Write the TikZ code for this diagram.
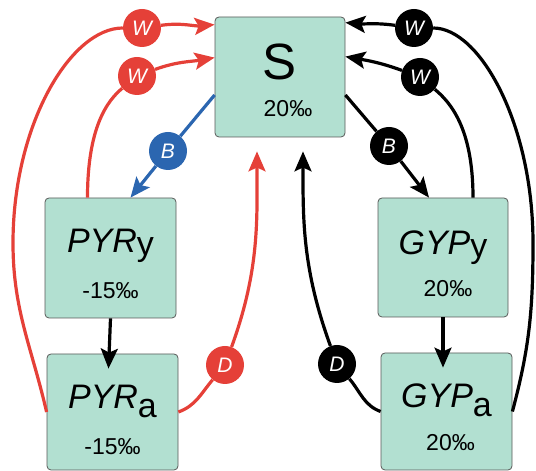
\documentclass[tikz,border=0pt]{standalone}
\usepackage{fontspec}
\setmainfont{Liberation Sans}
\usetikzlibrary{arrows.meta}

\definecolor{boxfill}{RGB}{178,224,209}
\definecolor{sred}{RGB}{229,64,56}
\definecolor{sblue}{RGB}{43,102,176}

\begin{document}
\begin{tikzpicture}[x=1pt,y=1pt,
    box/.style={draw=black!65,line width=0.8pt,fill=boxfill,rounded corners=4pt},
    ttl/.style={anchor=base,font=\fontsize{34}{34}\selectfont},
    pct/.style={anchor=base,font=\fontsize{23}{23}\selectfont},
    badge/.style={circle,minimum size=38pt,inner sep=0pt,text=white,
      font=\fontsize{21}{21}\selectfont\itshape},
    flow/.style={line width=3.2pt},
    arr/.style={flow,-{Stealth[length=20pt,width=17pt,inset=4pt]}}]
    \useasboundingbox (0,0) rectangle (536,471);
    % pools
    \node[box,minimum width=130pt,minimum height=120pt] (S) at (280,394) {};
    \node[box,minimum width=131pt,minimum height=120pt] (PYRy) at (110.5,213) {};
    \node[box,minimum width=131pt,minimum height=116pt] (PYRa) at (112.5,59) {};
    \node[box,minimum width=130pt,minimum height=119pt] (GYPy) at (443,213.5) {};
    \node[box,minimum width=131pt,minimum height=117pt] (GYPa) at (446.5,59.5) {};
    \node[anchor=base,font=\fontsize{51}{51}\selectfont] (Sname) at ([yshift=-3pt]S.center) {S};
    \node[pct] (Sval) at ([xshift=8pt,yshift=-40pt]S.center) {20‰};
    \node[ttl] (PYRyname) at ([yshift=5pt]PYRy.center) {\textit{PYR}\raisebox{-3pt}{y}};
    \node[pct] (PYRyval) at ([yshift=-41pt]PYRy.center) {-15‰};
    \node[ttl] (PYRaname) at ([yshift=3pt]PYRa.center) {\textit{PYR}\raisebox{-9pt}{a}};
    \node[pct] (PYRaval) at ([yshift=-43pt]PYRa.center) {-15‰};
    \node[ttl] (GYPyname) at ([yshift=3pt]GYPy.center) {\textit{GYP}\raisebox{-3pt}{y}};
    \node[pct] (GYPyval) at ([xshift=5pt,yshift=-39pt]GYPy.center) {20‰};
    \node[ttl] (GYPaname) at ([yshift=4pt]GYPa.center) {\textit{GYP}\raisebox{-9pt}{a}};
    \node[pct] (GYPaval) at ([xshift=4pt,yshift=-39pt]GYPa.center) {20‰};
    % fluxes
    \node[badge,fill=sred] (Wr1) at (142,443) {W};
    \node[badge,fill=sred] (Wr2) at (137,395) {W};
    \node[badge,fill=sblue] (Br) at (168,320) {B};
    \node[badge,fill=sred] (Dr) at (225,106) {D};
    \node[badge,fill=black] (Wb1) at (414,443) {W};
    \node[badge,fill=black] (Wb2) at (420,394) {W};
    \node[badge,fill=black] (Bb) at (389,325) {B};
    \node[badge,fill=black] (Db) at (337,107) {D};
    \coordinate (redleft) at (13,228);
    \coordinate (blackright) at (533,228);

    \draw[flow,sred] (PYRa.west) to[out=103,in=-90] (redleft)
      .. controls +(0,119) and +(-71,0) .. (Wr1);
    \draw[arr,sred] (Wr1) to[out=8,in=185] ([yshift=-8pt]S.north west);
    \draw[flow,sred] ([xshift=-23pt]PYRy.north) .. controls +(0,70) and +(-30,-25) .. (Wr2);
    \draw[arr,sred] (Wr2) to[out=20,in=190] ([yshift=-41pt]S.north west);
    \draw[flow,sred] (PYRa.east) to[out=20,in=230] (Dr);
    \draw[arr,sred,shorten >=14pt] (Dr) to[out=70,in=-90] ([xshift=-23pt]S.south);
    \draw[flow,sblue] ([yshift=-18pt]S.west) -- (Br);
    \draw[arr,sblue] (Br) -- ([xshift=20pt]PYRy.north);
    \draw[arr] (PYRy.south) -- ([xshift=-2pt,yshift=-15pt]PYRy.south |- PYRa.north);

    \draw[flow] (GYPa.east) to[out=75,in=-90] (blackright)
      .. controls +(0,119) and +(66,0) .. (Wb1);
    \draw[arr] (Wb1) to[out=172,in=-5] ([yshift=-6pt]S.north east);
    \draw[flow] ([xshift=30pt]GYPy.north) .. controls +(0,70) and +(30,-25) .. (Wb2);
    \draw[arr] (Wb2) to[out=160,in=-10] ([yshift=-40pt]S.north east);
    \draw[flow] (GYPa.west) to[out=160,in=-50] (Db);
    \draw[arr,shorten >=14pt] (Db) to[out=110,in=-90] ([xshift=23pt]S.south);
    \draw[flow] ([yshift=-18pt]S.east) -- (Bb);
    \draw[arr] (Bb) -- ([xshift=-14pt]GYPy.north);
    \draw[arr] (GYPy.south) -- ([yshift=-15pt]GYPy.south |- GYPa.north);
\end{tikzpicture}
\end{document}
